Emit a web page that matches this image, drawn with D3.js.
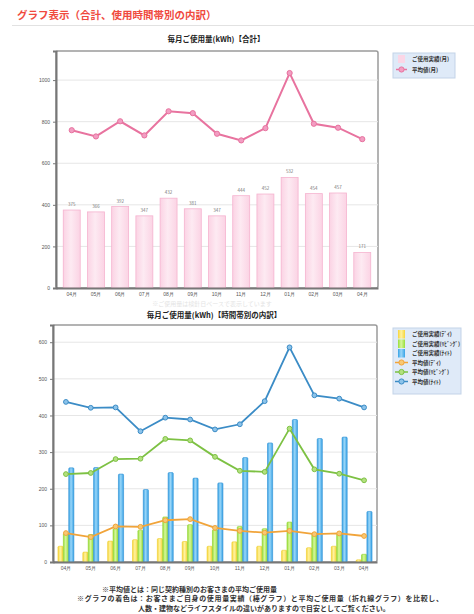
<!DOCTYPE html>
<html>
<head>
<meta charset="utf-8">
<script src="https://cdn.jsdelivr.net/npm/d3@7"></script>
<style>
  body { margin: 0; background: #fff; font-family: "Noto Sans CJK JP", "Noto Sans", sans-serif; }
  svg { display: block; }
</style>
</head>
<body>
<div id="chart-area"></div>
<script>
const width = 474;
const height = 614;

const monthLabels = ['04月', '05月', '06月', '07月', '08月', '09月', '10月', '11月', '12月', '01月', '02月', '03月', '04月'];
const totalUsage = [375, 366, 392, 347, 432, 381, 347, 444, 452, 532, 454, 457, 171];
const totalAverage = [759, 729, 802, 734, 850, 841, 742, 710, 769, 1034, 790, 771, 716];
const totalTicks = [0, 200, 400, 600, 800, 1000];

const dayUsage = [43, 27, 57, 61, 64, 56, 43, 55, 43, 32, 39, 43, 6];
const livingUsage = [78, 75, 91, 87, 123, 102, 88, 97, 91, 109, 77, 77, 21];
const nightUsage = [257, 258, 240, 198, 244, 229, 216, 285, 325, 389, 337, 341, 138];
const dayAverage = [79, 68, 97, 96, 114, 117, 93, 85, 80, 85, 76, 78, 71];
const livingAverage = [240, 243, 281, 282, 336, 332, 287, 249, 246, 364, 253, 241, 223];
const nightAverage = [437, 421, 422, 357, 394, 389, 362, 376, 439, 586, 455, 446, 422];
const detailTicks = [0, 100, 200, 300, 400, 500, 600];

const legend1 = ['ご使用実績(月)', '平均値(月)'];
const legend2 = ['ご使用実績(ﾃﾞｲ)', 'ご使用実績(ﾘﾋﾞﾝｸﾞ)', 'ご使用実績(ﾅｲﾄ)', '平均値(ﾃﾞｲ)', '平均値(ﾘﾋﾞﾝｸﾞ)', '平均値(ﾅｲﾄ)'];

let svg = d3.select('#chart-area').append('svg')
    .attr('width', width)
    .attr('height', height);

// gradients for the bars
let defs = svg.append('defs');
function gradient(id, c1, c2) {
    let g = defs.append('linearGradient').attr('id', id).attr('x1', '0%').attr('x2', '100%');
    g.append('stop').attr('offset', '0%').attr('stop-color', c1);
    g.append('stop').attr('offset', '45%').attr('stop-color', c2);
    g.append('stop').attr('offset', '100%').attr('stop-color', c1);
}
gradient('g-pink', '#fbd3e4', '#fdeaf2');
gradient('g-yellow', '#f6d63c', '#fff2a0');
gradient('g-green', '#9ade3a', '#d6f79c');
gradient('g-blue', '#38a3e6', '#9ad6f8');

// page heading
svg.append('text')
    .attr('x', 17).attr('y', 19)
    .attr('font-size', '10.5px')
    .attr('font-weight', 'bold')
    .attr('fill', '#f04a3e')
    .text('グラフ表示（合計、使用時間帯別の内訳）');
svg.append('line')
    .attr('x1', 12).attr('x2', width).attr('y1', 25.5).attr('y2', 25.5)
    .attr('stroke', '#e2e2e2').attr('stroke-width', 1);

function frame(g, x0, x1, y0, y1) {
    g.append('rect')
        .attr('x', x0).attr('y', y0)
        .attr('width', x1 - x0).attr('height', y1 - y0)
        .attr('rx', 2)
        .attr('fill', 'none')
        .attr('stroke', '#9a9a9a').attr('stroke-width', 1.5);
}

function grid(g, y, ticks, x0, x1) {
    g.selectAll('.grid').data(ticks.filter(t => t > 0)).enter().append('line')
        .attr('x1', x0).attr('x2', x1)
        .attr('y1', d => y(d)).attr('y2', d => y(d))
        .attr('stroke', '#e6e6e6').attr('stroke-width', 1);
}

function axes(g, x, y, ticks, x0, y0) {
    let left = d3.axisLeft(y).tickValues(ticks).tickFormat(d3.format('d')).tickSize(3).tickPadding(3);
    let la = g.append('g').attr('transform', `translate(${x0},0)`).call(left);
    la.select('.domain').attr('stroke', '#777').attr('stroke-width', 2);
    la.selectAll('.tick line').attr('stroke', '#777');
    la.selectAll('text').attr('font-size', '5px').attr('fill', '#555');

    let bottom = d3.axisBottom(x).tickFormat(i => monthLabels[i]).tickSize(0).tickPadding(4);
    let ba = g.append('g').attr('transform', `translate(0,${y0})`).call(bottom);
    ba.select('.domain').attr('stroke', '#777').attr('stroke-width', 2);
    ba.selectAll('text').attr('font-size', '5px').attr('fill', '#555');
}

// ---------- chart 1: total ----------
const c1 = { left: 56, right: 378, top: 51, bottom: 288 };
let g1 = svg.append('g');

g1.append('text')
    .attr('x', 216).attr('y', 42)
    .attr('text-anchor', 'middle')
    .attr('font-size', '7.5px').attr('font-weight', 'bold').attr('fill', '#222')
    .text('毎月ご使用量(kWh)【合計】');

let x1 = d3.scaleBand()
    .domain(d3.range(monthLabels.length))
    .range([c1.left, c1.right])
    .paddingInner(0.3)
    .paddingOuter(0.3);

let y1 = d3.scaleLinear()
    .domain([0, 1140])
    .range([c1.bottom, c1.top]);

frame(g1, c1.left, c1.right, c1.top, c1.bottom);
grid(g1, y1, totalTicks, c1.left, c1.right);

g1.selectAll('.bar').data(totalUsage).enter().append('rect')
    .attr('x', (d, i) => x1(i))
    .attr('y', d => y1(d))
    .attr('width', x1.bandwidth())
    .attr('height', d => c1.bottom - y1(d))
    .attr('fill', 'url(#g-pink)')
    .attr('stroke', '#f5b3cf').attr('stroke-width', 0.8);

g1.selectAll('.barlabel').data(totalUsage).enter().append('text')
    .attr('x', (d, i) => x1(i) + x1.bandwidth() / 2)
    .attr('y', d => y1(d) - 4)
    .attr('text-anchor', 'middle')
    .attr('font-size', '4.5px').attr('fill', '#777')
    .text(d => d);

let line1 = d3.line()
    .x((d, i) => x1(i) + x1.bandwidth() / 2)
    .y(d => y1(d));

g1.append('path').datum(totalAverage)
    .attr('d', line1)
    .attr('fill', 'none')
    .attr('stroke', '#e8739f').attr('stroke-width', 2);

g1.selectAll('.pt').data(totalAverage).enter().append('circle')
    .attr('cx', (d, i) => x1(i) + x1.bandwidth() / 2)
    .attr('cy', d => y1(d))
    .attr('r', 2.6)
    .attr('fill', '#f29dc2').attr('stroke', '#e8739f').attr('stroke-width', 1);

axes(g1, x1, y1, totalTicks, c1.left, c1.bottom);

// faint caption below chart 1
g1.append('text')
    .attr('x', 212).attr('y', 306)
    .attr('text-anchor', 'middle')
    .attr('font-size', '6px').attr('fill', '#e4e4e4')
    .text('※ご使用量は検針日ベースで表示しています');

// legend 1
let lg1 = svg.append('g').attr('transform', 'translate(393,53)');
lg1.append('rect').attr('width', 62).attr('height', 25)
    .attr('fill', '#dfeaf8').attr('stroke', '#c3d3e8');
lg1.append('rect').attr('x', 5).attr('y', 2).attr('width', 7).attr('height', 8)
    .attr('fill', '#fbd6e6');
lg1.append('line').attr('x1', 3).attr('x2', 14).attr('y1', 16.5).attr('y2', 16.5)
    .attr('stroke', '#e8739f').attr('stroke-width', 1.5);
lg1.append('circle').attr('cx', 8.5).attr('cy', 16.5).attr('r', 2.6)
    .attr('fill', '#f29dc2').attr('stroke', '#e8739f');
lg1.selectAll('.lt').data(legend1).enter().append('text')
    .attr('x', 19).attr('y', (d, i) => 8 + i * 11)
    .attr('font-size', '5.5px').attr('font-weight', 'bold').attr('fill', '#333')
    .text(d => d);

// ---------- chart 2: by time of use ----------
const c2 = { left: 53, right: 377, top: 325, bottom: 562 };
let g2 = svg.append('g');

g2.append('text')
    .attr('x', 214).attr('y', 318)
    .attr('text-anchor', 'middle')
    .attr('font-size', '7.5px').attr('font-weight', 'bold').attr('fill', '#222')
    .text('毎月ご使用量(kWh)【時間帯別の内訳】');

let x2 = d3.scaleBand()
    .domain(d3.range(monthLabels.length))
    .range([c2.left, c2.right])
    .paddingInner(0.36)
    .paddingOuter(0.2);

let sub = d3.scaleBand()
    .domain(['day', 'living', 'night'])
    .range([0, x2.bandwidth()])
    .paddingInner(0.05);

let y2 = d3.scaleLinear()
    .domain([0, 647])
    .range([c2.bottom, c2.top]);

frame(g2, c2.left, c2.right, c2.top, c2.bottom);
grid(g2, y2, detailTicks, c2.left, c2.right);

const barSeries = [
    { key: 'day', values: dayUsage, fill: 'url(#g-yellow)', stroke: '#efcc2a' },
    { key: 'living', values: livingUsage, fill: 'url(#g-green)', stroke: '#8ed12e' },
    { key: 'night', values: nightUsage, fill: 'url(#g-blue)', stroke: '#2b8fd3' }
];

barSeries.forEach(s => {
    g2.selectAll('.b-' + s.key).data(s.values).enter().append('rect')
        .attr('x', (d, i) => x2(i) + sub(s.key))
        .attr('y', d => y2(d))
        .attr('width', sub.bandwidth())
        .attr('height', d => c2.bottom - y2(d))
        .attr('rx', 1)
        .attr('fill', s.fill)
        .attr('stroke', s.stroke).attr('stroke-width', 0.6);
});

const lineSeries = [
    { values: dayAverage, color: '#f1a43a', dot: '#f8c873' },
    { values: livingAverage, color: '#7dc143', dot: '#b3e07f' },
    { values: nightAverage, color: '#3b8cc6', dot: '#8cc3ea' }
];

let line2 = d3.line()
    .x((d, i) => x2(i) + x2.bandwidth() / 2)
    .y(d => y2(d));

lineSeries.forEach(s => {
    g2.append('path').datum(s.values)
        .attr('d', line2)
        .attr('fill', 'none')
        .attr('stroke', s.color).attr('stroke-width', 1.8);
    g2.append('g').selectAll('circle').data(s.values).enter().append('circle')
        .attr('cx', (d, i) => x2(i) + x2.bandwidth() / 2)
        .attr('cy', d => y2(d))
        .attr('r', 2.4)
        .attr('fill', s.dot).attr('stroke', s.color).attr('stroke-width', 1);
});

axes(g2, x2, y2, detailTicks, c2.left, c2.bottom);

// legend 2
let lg2 = svg.append('g').attr('transform', 'translate(393,328)');
lg2.append('rect').attr('width', 68).attr('height', 66)
    .attr('fill', '#dfeaf8').attr('stroke', '#c3d3e8');
barSeries.forEach((s, i) => {
    lg2.append('rect').attr('x', 5).attr('y', 2 + i * 9.5).attr('width', 7).attr('height', 8.5)
        .attr('fill', s.fill);
});
lineSeries.forEach((s, i) => {
    let cy = 34.5 + i * 9.5;
    lg2.append('line').attr('x1', 2).attr('x2', 15).attr('y1', cy).attr('y2', cy)
        .attr('stroke', s.color).attr('stroke-width', 1.5);
    lg2.append('circle').attr('cx', 8.5).attr('cy', cy).attr('r', 2.6)
        .attr('fill', s.dot).attr('stroke', s.color);
});
lg2.selectAll('.lt').data(legend2).enter().append('text')
    .attr('x', 19).attr('y', (d, i) => 8 + i * 9.5)
    .attr('font-size', '5.5px').attr('font-weight', 'bold').attr('fill', '#333')
    .text(d => d);

// footnotes
const notes = [
    { x: 102, y: 592, t: '※平均値とは：同じ契約種別のお客さまの平均ご使用量' },
    { x: 77, y: 601, t: '※グラフの着色は：お客さまご自身の使用量実績（棒グラフ）と平均ご使用量（折れ線グラフ）を比較し、' },
    { x: 138, y: 610.5, t: '人数・建物などライフスタイルの違いがありますので目安としてご覧ください。' }
];
svg.selectAll('.note').data(notes).enter().append('text')
    .attr('x', d => d.x).attr('y', d => d.y)
    .attr('font-size', '7px').attr('font-weight', 'bold').attr('fill', '#333')
    .attr('textLength', (d, i) => i === 1 ? 366 : null)
    .text(d => d.t);
</script>
</body>
</html>
